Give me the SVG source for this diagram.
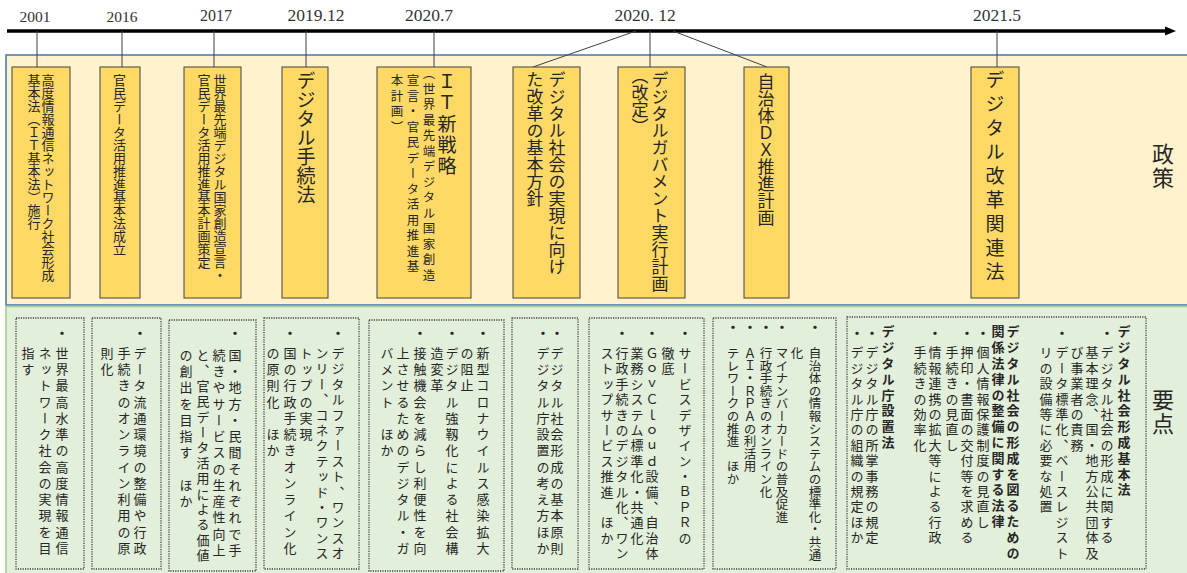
<svg xmlns="http://www.w3.org/2000/svg" width="1187" height="573" viewBox="0 0 1187 573">
<style>
.bg{fill:#ffffff}
.pol{fill:#FFF2CC;stroke:#4A7EBB;stroke-width:1.6}
.key{fill:#E2EFDA;stroke:#A9D18E;stroke-width:1.6}
.pb{fill:#FFD966;stroke:#404040;stroke-width:1}
.db{fill:none;stroke:#404040;stroke-width:1.3;stroke-dasharray:1.2 1.2}
.tk{stroke:#404040;stroke-width:1;fill:none}
.yr{font-family:"Liberation Serif",serif;fill:#333;text-anchor:middle}
.v{writing-mode:vertical-rl;font-family:"Noto Sans CJK JP","Noto Sans CJK SC",sans-serif;fill:#262626}
.f13{font-size:13px}
.f125{font-size:12.5px;letter-spacing:3px}
.f17{font-size:17px}
.f19{font-size:19px}
.bt{font-size:13px;letter-spacing:3.25px}
.bt2{font-size:13px;letter-spacing:2.4px}
.b8{font-size:12.5px;letter-spacing:0.1px}
.bh{font-size:13px;letter-spacing:2.8px;font-weight:bold}
.bu{font-size:13px;font-weight:bold}
.lab{font-size:22px;letter-spacing:2px}
</style>
<rect class="bg" x="0" y="0" width="1187" height="573"/>
<rect class="pol" x="6" y="55" width="1195" height="250"/>
<rect class="key" x="6" y="306.5" width="1195" height="275"/>

<g id="timeline">
<line x1="7" y1="31" x2="1167" y2="31" stroke="#000" stroke-width="3.5"/>
<polygon points="1165,26.5 1176,31 1165,35.5" fill="#000"/>
<text class="yr" x="35" y="22" font-size="15.5">2001</text>
<text class="yr" x="122" y="22" font-size="15.5">2016</text>
<text class="yr" x="216" y="21" font-size="16">2017</text>
<text class="yr" x="316" y="21" font-size="17.5">2019.12</text>
<text class="yr" x="429" y="21" font-size="17.5">2020.7</text>
<text class="yr" x="645" y="21" font-size="17.5">2020. 12</text>
<text class="yr" x="997" y="21" font-size="17.5">2021.5</text>
</g>

<g id="connectors">
<line class="tk" x1="37" y1="31" x2="37" y2="67"/>
<line class="tk" x1="122" y1="31" x2="122" y2="67"/>
<line class="tk" x1="214" y1="31" x2="214" y2="67"/>
<line class="tk" x1="306" y1="31" x2="306" y2="67"/>
<line class="tk" x1="434" y1="31" x2="434" y2="67"/>
<line class="tk" x1="636" y1="31" x2="533" y2="67"/>
<line class="tk" x1="650" y1="31" x2="650" y2="67"/>
<line class="tk" x1="673" y1="31" x2="767" y2="67"/>
<line class="tk" x1="997" y1="31" x2="997" y2="67"/>
</g>

<g id="labels">
<text class="v lab" x="1163" y="143">政策</text>
<text class="v lab" x="1163" y="389">要点</text>
</g>

<g id="p1"><rect class="pb" x="12" y="67" width="58" height="231"/>
<text class="v f13" x="48" y="73.5">高度情報通信ネットワーク社会形成</text>
<text class="v f13" x="34" y="73.5">基本法（ＩＴ基本法）施行</text></g>
<g id="p2"><rect class="pb" x="100" y="67" width="40" height="231"/>
<text class="v f13" x="119.5" y="73.5">官民データ活用推進基本法成立</text></g>
<g id="p3"><rect class="pb" x="184" y="67" width="57" height="231"/>
<text class="v f13" x="220" y="73.5">世界最先端デジタル国家創造宣言・</text>
<text class="v f13" x="204" y="73.5">官民データ活用推進基本計画策定</text></g>
<g id="p4"><rect class="pb" x="282" y="67" width="46" height="231"/>
<text class="v f19" x="306" y="71">デジタル手続法</text></g>
<g id="p5"><rect class="pb" x="377" y="67" width="94" height="231"/>
<text class="v f19" x="447" y="72" style="letter-spacing:2px">ＩＴ新戦略</text>
<text class="v f125" x="429" y="67">（世界最先端デジタル国家創造</text>
<text class="v f125" x="413" y="74">宣言・官民データ活用推進基</text>
<text class="v f125" x="397" y="74">本計画）</text></g>
<g id="p6"><rect class="pb" x="513" y="67" width="67" height="231"/>
<text class="v f17" x="557" y="71.5">デジタル社会の実現に向け</text>
<text class="v f17" x="535" y="71.5">た改革の基本方針</text></g>
<g id="p7"><rect class="pb" x="618" y="67" width="67" height="231"/>
<text class="v f17" x="660" y="71.5">デジタルガバメント実行計画</text>
<text class="v f17" x="640" y="67">（改定）</text></g>
<g id="p8"><rect class="pb" x="744" y="67" width="45" height="231"/>
<text class="v f17" x="766" y="73">自治体ＤＸ推進計画</text></g>
<g id="p9"><rect class="pb" x="971" y="67" width="48" height="231"/>
<text class="v f19" x="995" y="70.5" style="letter-spacing:5px">デジタル改革関連法</text></g>

<g id="k1"><rect class="db" x="16" y="318" width="68" height="251"/>
<text class="v bu" x="62" y="326.5">・</text>
<text class="v bt" x="62" y="346.5">世界最高水準の高度情報通信</text>
<text class="v bt" x="45" y="346.5">ネットワーク社会の実現を目</text>
<text class="v bt" x="28" y="346.5">指す</text></g>

<g id="k2"><rect class="db" x="92" y="318" width="69" height="251"/>
<text class="v bu" x="140" y="326.5">・</text>
<text class="v bt" x="140" y="346.5">データ流通環境の整備や行政</text>
<text class="v bt" x="124" y="346.5">手続きのオンライン利用の原</text>
<text class="v bt" x="107" y="346.5">則化</text></g>

<g id="k3"><rect class="db" x="169" y="320" width="87" height="251"/>
<text class="v bu" x="235" y="327">・</text>
<text class="v bt" x="235" y="348.5">国・地方・民間それぞれで手</text>
<text class="v bt" x="219" y="348.5">続きやサービスの生産性向上</text>
<text class="v bt2" x="203" y="348.5">と、官民データ活用による価値</text>
<text class="v bt" x="186" y="348.5">の創出を目指す　ほか</text></g>

<g id="k4"><rect class="db" x="264" y="318" width="95" height="251"/>
<text class="v bu" x="338" y="326.5">・</text>
<text class="v bt2" x="338" y="346.5">デジタルファースト、ワンスオ</text>
<text class="v bt2" x="322" y="346.5">ンリー、コネクテッド・ワンス</text>
<text class="v bt" x="306" y="346.5">トップの実現</text>
<text class="v bu" x="290" y="326.5">・</text>
<text class="v bt" x="290" y="346.5">国の行政手続きオンライン化</text>
<text class="v bt" x="273" y="346.5">の原則化　ほか</text></g>

<g id="k5"><rect class="db" x="369" y="320" width="135" height="251"/>
<text class="v bu" x="483" y="326.5">・</text>
<text class="v bt" x="483" y="346.5">新型コロナウイルス感染拡大</text>
<text class="v bt" x="467" y="346.5">の阻止</text>
<text class="v bu" x="452" y="326.5">・</text>
<text class="v bt" x="452" y="346.5">デジタル強靱化による社会構</text>
<text class="v bt" x="437" y="346.5">造変革</text>
<text class="v bu" x="420" y="326.5">・</text>
<text class="v bt" x="420" y="346.5">接触機会を減らし利便性を向</text>
<text class="v bt" x="403" y="346.5">上させるためのデジタル・ガ</text>
<text class="v bt" x="387" y="346.5">バメント　ほか</text></g>

<g id="k6"><rect class="db" x="512" y="318" width="66" height="251"/>
<text class="v bu" x="557" y="326.5">・</text>
<text class="v bt" x="557" y="346.5">デジタル社会形成の基本原則</text>
<text class="v bu" x="543" y="326.5">・</text>
<text class="v bt" x="543" y="346.5">デジタル庁設置の考え方ほか</text></g>

<g id="k7"><rect class="db" x="589" y="318" width="115" height="251"/>
<text class="v bu" x="685" y="326.5">・</text>
<text class="v bt2" x="685" y="346.5">サービスデザイン・ＢＰＲの</text>
<text class="v bt2" x="668" y="346.5">徹底</text>
<text class="v bu" x="652" y="326.5">・</text>
<text class="v bt2" x="652" y="346.5">ＧｏｖＣｌｏｕｄ設備、自治体</text>
<text class="v bt2" x="637" y="346.5">業務システム標準化・共通化</text>
<text class="v bu" x="622" y="326.5">・</text>
<text class="v bt2" x="622" y="346.5">行政手続きのデジタル化、ワン</text>
<text class="v bt2" x="607" y="346.5">ストップサービス推進　ほか</text></g>

<g id="k8"><rect class="db" x="713" y="318" width="123" height="251"/>
<text class="v bu" x="815" y="320.5">・</text>
<text class="v b8" x="815" y="347">自治体の情報システムの標準化・共通</text>
<text class="v b8" x="797" y="347">化</text>
<text class="v bu" x="782" y="320.5">・</text>
<text class="v b8" x="782" y="347">マイナンバーカードの普及促進</text>
<text class="v bu" x="766" y="320.5">・</text>
<text class="v b8" x="766" y="347">行政手続きのオンライン化</text>
<text class="v bu" x="750" y="320.5">・</text>
<text class="v b8" x="750" y="347">ＡＩ・ＲＰＡの利活用</text>
<text class="v bu" x="733" y="320.5">・</text>
<text class="v b8" x="733" y="347">テレワークの推進　ほか</text></g>

<g id="k9"><rect class="db" x="847" y="317" width="299" height="252"/>
<text class="v bh" x="1124" y="325">デジタル社会形成基本法</text>
<text class="v bu" x="1107" y="326.5">・</text>
<text class="v bt2" x="1107" y="346">デジタル社会の形成に関する</text>
<text class="v bt2" x="1092" y="346">基本理念、国・地方公共団体及</text>
<text class="v bt2" x="1077" y="346">び事業者の責務</text>
<text class="v bu" x="1062" y="326.5">・</text>
<text class="v bt2" x="1062" y="346">データ標準化、ベースレジスト</text>
<text class="v bt2" x="1046" y="346">リの設備等に必要な処置</text>
<text class="v bh" x="1013" y="325">デジタル社会の形成を図るための</text>
<text class="v bh" x="998" y="325">関係法律の整備に関する法律</text>
<text class="v bu" x="983" y="326.5">・</text>
<text class="v bt2" x="983" y="346">個人情報保護制度の見直し</text>
<text class="v bu" x="967" y="326.5">・</text>
<text class="v bt2" x="967" y="346">押印・書面の交付等を求める</text>
<text class="v bt2" x="952" y="346">手続きの見直し</text>
<text class="v bu" x="935" y="326.5">・</text>
<text class="v bt2" x="935" y="346">情報連携の拡大等による行政</text>
<text class="v bt2" x="920" y="346">手続きの効率化</text>
<text class="v bh" x="888" y="325">デジタル庁設置法</text>
<text class="v bu" x="872" y="326.5">・</text>
<text class="v bt2" x="872" y="346">デジタル庁の所掌事務の規定</text>
<text class="v bu" x="857" y="326.5">・</text>
<text class="v bt2" x="857" y="346">デジタル庁の組織の規定ほか</text></g>
</svg>
